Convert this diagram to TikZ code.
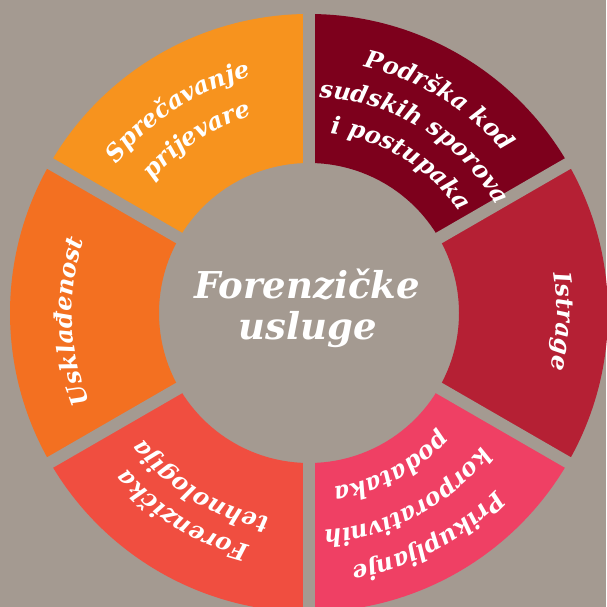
\documentclass[tikz,border=0pt]{standalone}
\usepackage{fontspec}
\setmainfont{DejaVu Serif}
\usetikzlibrary{decorations.text}
\definecolor{bgc}{HTML}{A49A91}
\definecolor{cspr}{HTML}{F7931E}
\definecolor{cpod}{HTML}{7D001C}
\definecolor{cist}{HTML}{B52034}
\definecolor{cpri}{HTML}{EF4064}
\definecolor{cfor}{HTML}{F04E40}
\definecolor{cusk}{HTML}{F37021}
\newcommand\segfont{\fontsize{24}{28}\selectfont\bfseries\itshape\color{white}}
\newcommand\arctext[3]{%
  \path[decorate, decoration={text along path, text align=center,
    text={|\segfont|#3}}]
    (#1+50:#2) arc[start angle=#1+50, end angle=#1-50, radius=#2];}
\begin{document}
\begin{tikzpicture}[x=1pt,y=1pt]
\fill[bgc] (0,0) rectangle (606,607);
\useasboundingbox (0,0) rectangle (606,607);
\begin{scope}[shift={(309,294)}]
\coordinate (C) at (0,0);
\foreach \a/\b/\c in {90/150/cspr, 30/90/cpod, -30/30/cist, -90/-30/cpri, -150/-90/cfor, 150/210/cusk}{
  \fill[\c] (\a:150) arc[start angle=\a, end angle=\b, radius=150] -- (\b:299)
    arc[start angle=\b, end angle=\a, radius=299] -- cycle;
}
\foreach \a in {30,90,150,210,270,330}{
  \draw[bgc, line width=12] (C) -- (\a:320);
}
\arctext{123}{243}{Sprečavanje}
\arctext{123}{205}{prijevare}
\arctext{58.5}{252}{Podrška kod}
\arctext{58.5}{216}{sudskih sporova}
\arctext{58.5}{181}{i postupaka}
\arctext{-2}{248}{Istrage}
\arctext{-62}{257}{Prikupljanje}
\arctext{-62}{218}{korporativnih}
\arctext{-62}{176}{podataka}
\arctext{-122}{240}{Forenzička}
\arctext{-122}{208}{tehnologija}
\arctext{182}{237}{Usklađenost}
\node[anchor=base, text=white, inner sep=0, font=\fontsize{37}{44}\selectfont\bfseries\itshape] (t1) at (-2,14) {Forenzičke};
\node[anchor=base, text=white, inner sep=0, font=\fontsize{37}{44}\selectfont\bfseries\itshape] (t2) at (-1,-27) {usluge};
\end{scope}
\end{tikzpicture}
\end{document}
